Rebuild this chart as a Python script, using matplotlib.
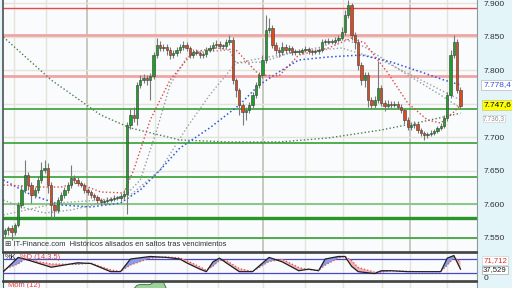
import matplotlib
matplotlib.use('Agg')
import matplotlib.pyplot as plt
import matplotlib.transforms as mtransforms
import numpy as np
import pandas as pd

plt.rcParams['font.family'] = ['Liberation Sans', 'DejaVu Sans']

# daily candles (index points)
closes = [
    7561.9, 7564.9, 7559.0, 7569.4, 7599.3, 7621.7, 7644.0, 7629.1, 7614.2, 7621.7,
    7636.6, 7651.5, 7654.5, 7629.1, 7599.3, 7591.8, 7606.7, 7614.2, 7621.7, 7629.1,
    7639.6, 7636.6, 7632.1, 7629.1, 7621.7, 7618.7, 7614.2, 7611.2, 7606.7, 7603.7,
    7605.2, 7606.7, 7608.2, 7609.7, 7609.7, 7612.7, 7615.7, 7718.7, 7733.6, 7729.1,
    7778.4, 7785.8, 7788.8, 7785.8, 7791.8, 7823.1, 7838.1, 7833.6, 7835.1, 7830.6,
    7823.1, 7826.1, 7830.6, 7835.1, 7838.1, 7833.6, 7823.1, 7827.6, 7826.1, 7823.1,
    7824.6, 7830.6, 7833.6, 7838.1, 7839.6, 7836.6, 7836.6, 7842.5, 7845.5, 7785.8,
    7770.9, 7748.5, 7738.1, 7741.0, 7748.5, 7763.4, 7778.4, 7793.3, 7815.7, 7860.4,
    7863.4, 7838.1, 7830.6, 7827.6, 7835.1, 7830.6, 7833.6, 7827.6, 7829.1, 7827.6,
    7830.6, 7832.1, 7829.1, 7827.6, 7829.1, 7830.6, 7842.5, 7842.5, 7844.0, 7842.5,
    7845.5, 7848.5, 7857.5, 7882.8, 7897.8, 7853.0, 7842.5, 7808.2, 7785.8, 7793.3,
    7756.0, 7748.5, 7756.0, 7773.9, 7751.5, 7747.0, 7750.0, 7748.5, 7750.0, 7745.5,
    7741.0, 7726.1, 7715.7, 7718.7, 7720.1, 7711.2, 7706.7, 7703.7, 7705.2, 7706.7,
    7709.7, 7714.2, 7717.2, 7729.1, 7763.4, 7823.1, 7842.5, 7770.9, 7747.6]
first_open = 7556.0
upper_wick = [
    3, 3, 4, 3, 4, 8, 22, 5, 5, 5, 6, 12, 12, 8, 4, 4, 4, 5, 4, 5,
    20, 5, 4, 3, 3, 3, 3, 3, 3, 3, 3, 4, 3, 4, 3, 5, 6, 5, 10, 12,
    4, 8, 6, 5, 4, 5, 10, 6, 5, 5, 4, 4, 5, 5, 6, 4, 3, 4, 4, 3,
    3, 5, 4, 4, 6, 5, 3, 5, 8, 4, 3, 3, 3, 5, 4, 4, 5, 4, 8, 22,
    15, 5, 5, 5, 8, 4, 4, 3, 3, 3, 3, 4, 3, 3, 3, 3, 5, 4, 4, 3,
    4, 5, 8, 8, 7, 3, 4, 4, 4, 5, 4, 4, 6, 40, 4, 4, 6, 4, 5, 4,
    4, 3, 4, 5, 4, 3, 3, 3, 3, 4, 3, 3, 4, 5, 5, 8, 11, 4, 4]
lower_wick = [
    5, 8, 12, 4, 3, 5, 5, 8, 12, 5, 4, 5, 5, 12, 20, 12, 5, 5, 4, 4,
    4, 4, 4, 3, 4, 4, 4, 5, 4, 5, 3, 4, 3, 3, 3, 4, 4, 30, 6, 6,
    10, 5, 5, 8, 30, 4, 5, 5, 5, 8, 6, 5, 4, 4, 4, 5, 5, 4, 3, 4,
    4, 4, 3, 4, 4, 4, 4, 3, 4, 6, 10, 15, 20, 12, 5, 5, 5, 5, 5, 5,
    5, 5, 6, 8, 4, 4, 5, 5, 4, 3, 3, 3, 4, 4, 3, 4, 3, 3, 3, 3,
    3, 3, 3, 4, 5, 8, 10, 8, 8, 10, 10, 6, 5, 4, 5, 8, 4, 4, 3, 3,
    4, 6, 5, 4, 5, 4, 5, 7, 4, 3, 3, 3, 3, 3, 4, 4, 5, 5, 3]

# moving averages (candle index, value)
ma_long_idx = [-0.5, 14, 29, 38, 53, 68, 83, 98, 114, 126, 138]
ma_long = [7850.0, 7785.8, 7733.6, 7714.2, 7696.3, 7693.3, 7693.3, 7699.3, 7711.2, 7723.1, 7736.3]
ma_blue_idx = [-0.5, 8, 17, 26, 35, 41, 47, 53, 62, 71, 77, 83, 89, 98, 108, 117, 126, 133, 138]
ma_blue = [7636.6, 7614.2, 7599.3, 7596.3, 7602.2, 7621.7, 7651.5, 7684.3, 7714.2, 7748.5,
           7778.4, 7797.8, 7815.7, 7820.2, 7823.1, 7812.7, 7797.8, 7785.8, 7778.4]
ma_red_idx = [-0.5, 11, 17, 22, 29, 36, 39, 44, 50, 57, 64, 70, 77, 83, 89, 98, 105, 109,
              116, 122, 128, 132, 136, 138]
ma_red = [7629.1, 7626.1, 7626.1, 7632.1, 7618.7, 7617.2, 7651.5, 7726.1, 7785.8, 7827.6,
          7833.6, 7830.6, 7793.3, 7791.8, 7823.1, 7833.6, 7848.5, 7841.0, 7796.3, 7751.5,
          7726.1, 7721.6, 7738.1, 7748.5]
ma_gray_idx = [-0.5, 5, 12, 20, 29, 36, 41, 46, 50, 55, 59, 68, 70, 78, 86, 96, 102, 109, 121, 131, 138]
ma_gray = [7606.7, 7596.3, 7587.3, 7591.8, 7602.2, 7611.2, 7636.6, 7711.2, 7778.4, 7818.7,
           7827.6, 7830.6, 7811.2, 7812.7, 7826.1, 7835.1, 7848.5, 7835.1, 7796.3, 7766.4, 7744.0]
ma_gray2_idx = [-0.5, 16, 29, 38, 47, 55, 62, 70, 78, 89, 102, 114, 126, 138]
ma_gray2 = [7584.3, 7602.2, 7606.7, 7614.2, 7651.5, 7714.2, 7763.4, 7811.2, 7818.7, 7827.6,
            7833.6, 7815.7, 7785.8, 7755.9]

# support / resistance levels
red_levels = [7892.8]
pink_levels = [7853.4, 7792.2]
green_levels = [7742.1, 7691.4, 7640.6, 7549.6]
light_green_levels = [7600.7]
thick_green_levels = [7580.3]

# price axis labels (7.750 sits under the last-price box)
price_ticks = [7550, 7600, 7650, 7700, 7800, 7850, 7900]

# stochastic %K %D (14,3,5)
stoch_idx = [-0.5, 4, 6, 14, 22, 26, 32, 35, 38, 44, 49, 53, 55, 59, 61, 63, 65, 67, 71, 75,
             80, 84, 89, 92, 95, 97, 101, 103, 105, 107, 112, 114, 117, 122, 125, 129, 132,
             134, 136, 138]
stoch_k = [27, 88, 81, 46, 65, 62, 27, 27, 81, 92, 88, 81, 65, 38, 27, 69, 85, 65, 27, 27,
           88, 69, 31, 38, 31, 81, 92, 92, 50, 27, 19, 31, 31, 27, 27, 27, 27, 85, 96, 37.529]
stoch_d = [35, 60, 80, 60, 58, 64, 35, 28, 55, 85, 90, 86, 75, 48, 33, 50, 75, 75, 40, 28,
           70, 80, 45, 35, 33, 55, 85, 92, 75, 45, 25, 25, 30, 29, 27, 27, 27, 55, 85, 71.712]

grid_x = [2.7, 12.4, 24.8, 35.8, 45.5, 55.2, 64.5, 78.2, 90.9, 102.4, 114.2, 122.7, 133.9]
dark_grid_x = [24.8, 78.2, 122.7]

idx = np.arange(len(closes))
opens = [first_open] + closes[:-1]
highs = [max(o, c) + u for o, c, u in zip(opens, closes, upper_wick)]
lows = [min(o, c) - l for o, c, l in zip(opens, closes, lower_wick)]
df = pd.DataFrame({'open': opens, 'high': highs, 'low': lows, 'close': closes}, index=idx)
mom = df['close'].diff(12)


def es_fmt(v):
    return f'{v:,.0f}'.replace(',', '.')


xlim = (-0.6, 143.0)
fig = plt.figure(figsize=(5.12, 2.88), dpi=100, facecolor='#e3f5f8')

# ---- main price panel
ax = fig.add_axes([3 / 512, 1 - 252 / 288, 474 / 512, 252 / 288], facecolor='#f9fbfd')
ax.set_xlim(*xlim)
ax.set_ylim(7529.1, 7905.2)
for gx in grid_x:
    ax.axvline(gx, color='#c8c8c0' if gx in dark_grid_x else '#e4e4dc',
               lw=1.4 if gx in dark_grid_x else 1.0, zorder=0)
for gy in range(7550, 7901, 50):
    ax.axhline(gy, color='#e4e4dc', lw=1.0, zorder=0)
for lv in red_levels:
    ax.axhline(lv, color='#e84848', lw=1.0, zorder=1)
for lv in pink_levels:
    ax.axhline(lv, color='#f2a4a4', lw=2.0, zorder=1)
for lv in green_levels:
    ax.axhline(lv, color='#34a034', lw=1.2, zorder=1)
for lv in light_green_levels:
    ax.axhline(lv, color='#88c888', lw=1.4, zorder=1)
for lv in thick_green_levels:
    ax.axhline(lv, color='#2a962a', lw=2.4, zorder=1)

dot = (0, (1, 1.6))
ax.plot(ma_long_idx, ma_long, color='#4f7d4f', lw=1.0, ls=dot, zorder=2)
ax.plot(ma_gray2_idx, ma_gray2, color='#a0a0a0', lw=1.0, ls=dot, zorder=2)
ax.plot(ma_gray_idx, ma_gray, color='#9a9a9a', lw=1.0, ls=dot, zorder=2)
ax.plot(ma_blue_idx, ma_blue, color='#2d55e0', lw=1.1, ls=dot, zorder=2)
ax.plot(ma_red_idx, ma_red, color='#e04848', lw=1.0, ls=dot, zorder=2)

ax.vlines(df.index, df['low'], df['high'], color='#7a7a7a', lw=0.8, zorder=3)
up = df['close'] >= df['open']
body = (df['close'] - df['open']).abs().clip(lower=1.2)
bottom = df[['open', 'close']].min(axis=1)
ax.bar(df.index[up], body[up], bottom=bottom[up], width=0.7, color='#1e9e2a',
       edgecolor='#3a3a3a', lw=0.4, zorder=4)
ax.bar(df.index[~up], body[~up], bottom=bottom[~up], width=0.7, color='#dc4a1e',
       edgecolor='#3a3a3a', lw=0.4, zorder=4)

ax.set_xticks([])
ax.yaxis.tick_right()
ax.set_yticks(price_ticks)
ax.set_yticklabels([es_fmt(t) for t in price_ticks])
ax.tick_params(axis='y', length=0, pad=5, labelsize=6, labelcolor='#303030')
ax.spines['top'].set_visible(False)
ax.spines['left'].set_color('#505050')
ax.spines['left'].set_linewidth(1.2)
ax.spines['right'].set_color('#8a9a9c')
ax.spines['bottom'].set_color('#404040')
ax.spines['bottom'].set_linewidth(1.2)

trans = mtransforms.blended_transform_factory(ax.transAxes, ax.transData)
ax.text(1.013, ma_blue[-1], '7.778,4', transform=trans, fontsize=6, color='#3355dd',
        va='center', bbox=dict(boxstyle='square,pad=0.2', fc='white', ec='#b8b8b8', lw=0.5))
ax.text(1.013, closes[-1] + 1, '7.747,6', transform=trans, fontsize=6, color='black',
        va='center', bbox=dict(boxstyle='square,pad=0.15', fc='#ffff00', ec='#c8c890', lw=0.5))
ax.text(1.013, ma_long[-1] - 8, '7.736,3', transform=trans, fontsize=4.8, color='#909090',
        va='center', bbox=dict(boxstyle='square,pad=0.05', fc='white', ec='#c8c8c8', lw=0.4))
ax.text(0.004, 0.03, '\u229e IT-Finance.com  Históricos alisados en saltos tras vencimientos',
        transform=ax.transAxes, fontsize=5.4, color='#303030', va='center', zorder=6)

# ---- stochastic panel
ax2 = fig.add_axes([3 / 512, 1 - 281 / 288, 474 / 512, 28 / 288], facecolor='#f9fbfd')
ax2.set_xlim(*xlim)
ax2.set_ylim(-12.9, 106.9)
for gx in grid_x:
    ax2.axvline(gx, color='#e4e4dc', lw=1.0, zorder=0)
ax2.axhline(80, color='#4848c8', lw=0.9, zorder=1)
ax2.axhline(20, color='#4848c8', lw=0.9, zorder=1)
k = np.array(stoch_k, dtype=float)
d = np.array(stoch_d, dtype=float)
ax2.fill_between(stoch_idx, k, d, where=k >= d, interpolate=True, color='#8c9ce8', lw=0, zorder=2)
ax2.fill_between(stoch_idx, k, d, where=k < d, interpolate=True, color='#f4b0b0', lw=0, zorder=2)
ax2.plot(stoch_idx, d, color='#e05050', lw=0.9, ls=dot, zorder=3)
ax2.plot(stoch_idx, k, color='#202020', lw=0.9, zorder=4)
ax2.set_xticks([])
ax2.yaxis.tick_right()
ax2.set_yticks([0])
ax2.set_yticklabels(['0'])
ax2.tick_params(axis='y', length=0, pad=5, labelsize=6, labelcolor='#303030')
for s in ['top', 'bottom']:
    ax2.spines[s].set_color('#404040')
    ax2.spines[s].set_linewidth(1.2)
ax2.spines['left'].set_color('#505050')
ax2.spines['right'].set_color('#8a9a9c')
trans2 = mtransforms.blended_transform_factory(ax2.transAxes, ax2.transData)
ax2.text(1.013, stoch_d[-1] + 4, '71,712', transform=trans2, fontsize=5.6, color='#e03030',
         va='center', bbox=dict(boxstyle='square,pad=0.1', fc='white', ec='#c8c8c8', lw=0.4))
ax2.text(1.013, stoch_k[-1] - 3, '37,529', transform=trans2, fontsize=5.6, color='#202020',
         va='center', bbox=dict(boxstyle='square,pad=0.1', fc='white', ec='#909090', lw=0.4))
ax2.text(0.004, 0.84, '%K', transform=ax2.transAxes, fontsize=5.4, color='#202020',
         va='center', zorder=6)
ax2.text(0.036, 0.84, '%D (14,3,5)', transform=ax2.transAxes, fontsize=5.4, color='#e04040',
         va='center', zorder=6)

# ---- momentum panel (mostly cut off)
ax3 = fig.add_axes([3 / 512, -0.15, 474 / 512, 0.15 + 1 - 282 / 288], facecolor='#f9fbfd')
ax3.set_xlim(*xlim)
ax3.set_ylim(-515, 220)
for gx in grid_x:
    ax3.axvline(gx, color='#e4e4dc', lw=1.0, zorder=0)
ax3.fill_between(df.index, mom, 0, where=mom > 0, color='#9ad49a', lw=0, zorder=2)
ax3.plot(df.index, mom, color='#3a6a3a', lw=0.6, zorder=3)
ax3.set_xticks([])
ax3.set_yticks([])
ax3.spines['top'].set_color('#404040')
ax3.spines['top'].set_linewidth(1.2)
ax3.spines['left'].set_color('#505050')
ax3.spines['right'].set_color('#8a9a9c')
ax3.text(0.01, 0.93, 'Mom (12)', transform=ax3.transAxes, fontsize=5.4, color='#e04040',
         va='center')

fig.savefig('out.png', dpi=100, facecolor=fig.get_facecolor())
